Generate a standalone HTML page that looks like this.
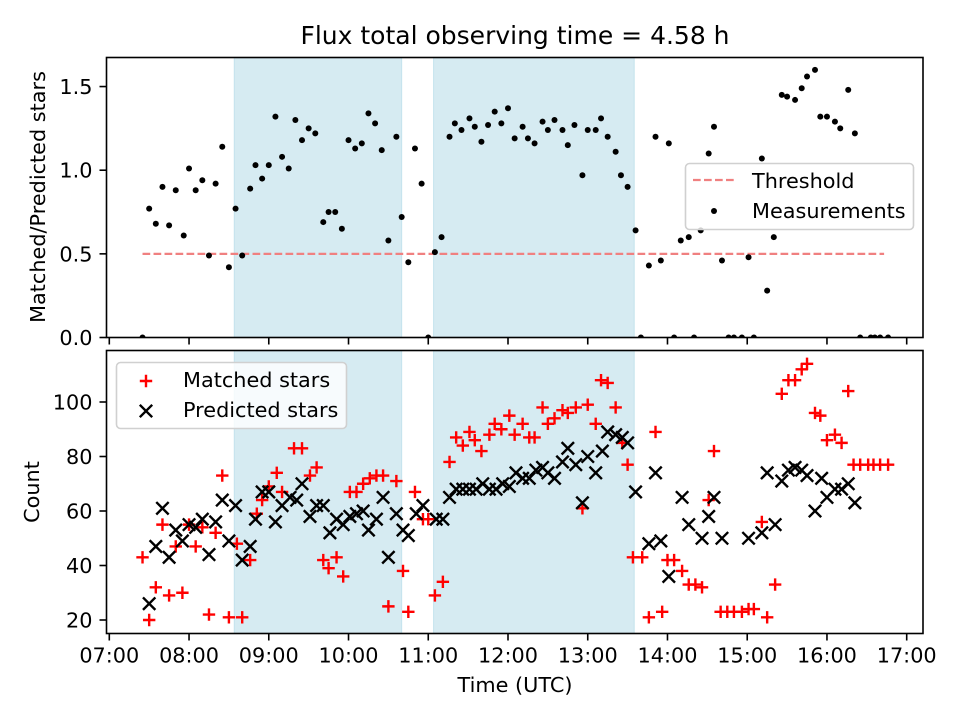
<!DOCTYPE html>
<html><head><meta charset="utf-8">
<style>
html,body{margin:0;padding:0;background:#fff;}
svg{display:block;font-family:"DejaVu Sans","Liberation Sans",sans-serif;}
</style></head>
<body>
<svg id="chart" width="960" height="720" viewBox="0 0 960 720" xmlns="http://www.w3.org/2000/svg">
  <rect x="0" y="0" width="960" height="720" fill="#fff"/>
  <text x="515" y="44" font-size="25" text-anchor="middle" fill="#000">Flux total observing time = 4.58 h</text>
  <defs>
    <clipPath id="clipTop"><rect x="106.5" y="57.5" width="816.5" height="280"/></clipPath>
    <clipPath id="clipBot"><rect x="106.5" y="350.5" width="816.5" height="283"/></clipPath>
  </defs>
  <g id="topPanel"></g>
  <g id="botPanel"></g>
  <text transform="translate(45,197) rotate(-90)" font-size="20.8" text-anchor="middle">Matched/Predicted stars</text>
  <text transform="translate(39,492) rotate(-90)" font-size="20.8" text-anchor="middle">Count</text>
  <text x="515" y="692" font-size="20.8" text-anchor="middle">Time (UTC)</text>
</svg>
<script>
// minutes after 07:00 UTC
const ratioTimes = [25,30,35,40,45,50,56,60,65,70, 75,80,85,90,95,100,106,110,115,120, 125,130,135,140,145,150,155,161,165,170, 175,180,185,190,195,200,205,210,216,220, 225,230,235,240,245,250,256,260,265,271, 275,280,285,290,295,300,305,311,315,320, 326,330,335,341,345,350,356,360,366,370, 375,381,385,390,396,400,406,411,415,421, 425,430,436,440,445,451,455,461,466,470, 476,481,485,491,495,500,506,510,516,521, 525,531,535,540,546,550,556,561,565,573, 576,580,586];
const ratioValues = [0,0.77,0.68,0.90,0.67,0.88,0.61,1.01,0.88,0.94, 0.49,0.92,1.14,0.42,0.77,0.49,0.89,1.03,0.95,1.03, 1.32,1.08,1.01,1.30,1.18,1.25,1.22,0.69,0.75,0.75, 0.65,1.18,1.13,1.16,1.34,1.28,1.12,0.58,1.20,0.72, 0.45,1.13,0.92,0,0.51,0.60,1.20,1.28,1.24,1.31, 1.26,1.17,1.27,1.35,1.28,1.37,1.19,1.26,1.19,1.16, 1.29,1.24,1.30,1.24,1.15,1.27,0.97,1.24,1.24,1.31, 1.20,1.11,0.97,0.90,0.64,0,0.43,1.20,0.46,1.16, 0,0.58,0.60,0,0.64,1.10,1.26,0.46,0,0, 0,0.48,0,1.07,0.28,0.60,1.45,1.44,1.42,1.49, 1.56,1.60,1.32,1.32,1.29,1.25,1.48,1.22,0,0, 0,0,0];
const matchedTimes = [25,30,35,40,45,50,55,60,65,70,75,80,85,90,96,100,106,111,115,120,126,130,139,145,151,156,161,165,171,176,181,186,191,196,201,206,210,216,221,225,230,236,240,245,251,256,261,266,271,275,280,286,290,295,301,305,311,316,320,326,330,335,341,345,351,356,360,366,370,375,381,386,390,394,401,406,411,416,420,425,431,436,441,446,451,455,460,465,470,476,481,485,491,495,501,506,511,516,521,525,531,535,540,546,551,556,560,565,571,575,580,586];
const matchedValues = [43,20,32,55,29,47,30,55,47,54,22,52,73,21,48,21,42,59,64,69,74,67,83,83,73,76,42,39,43,36,67,67,70,72,73,73,25,71,38,23,67,57,57,29,34,78,87,84,89,86,82,88,92,90,95,88,92,87,87,98,92,94,97,96,98,61,99,92,108,107,98,85,77,43,43,21,89,23,42,42,38,33,33,32,64,82,23,23,23,23,24,24,56,21,33,103,108,108,112,114,96,95,86,88,85,104,77,77,77,77,77,77];
const predictedTimes = [30,35,40,45,50,55,60,65,70,75,80,85,90,95,100,106,110,115,120,125,130,136,141,145,151,156,161,166,171,176,181,186,191,195,201,206,210,216,221,225,231,236,246,251,256,261,266,271,276,281,286,291,296,301,306,311,316,321,326,330,335,341,345,351,356,360,366,371,375,381,386,390,396,406,411,415,421,431,436,446,451,455,461,481,491,495,501,506,511,516,521,525,531,536,540,546,551,556,561];
const predictedValues = [26,47,61,43,53,49,55,54,57,44,56,64,49,62,42,47,57,67,67,56,62,65,64,70,58,62,62,52,57,55,58,59,60,53,57,65,43,59,53,51,59,62,57,57,65,68,68,68,68,70,68,68,70,69,74,72,72,75,76,74,72,78,83,77,63,80,74,82,89,88,87,85,67,48,74,49,36,65,55,50,58,65,50,50,52,74,55,71,75,76,75,73,60,72,65,68,68,70,63];
const shadeSpans = [[94,220],[244,395]];
const thresholdValue = 0.5, thresholdStart = 25, thresholdEnd = 583;
const xTickLabels = ["07:00","08:00","09:00","10:00","11:00","12:00","13:00","14:00","15:00","16:00","17:00"];
const topYTicks = [0,0.5,1.0,1.5];
const topYTickLabels = ["0.0","0.5","1.0","1.5"];
const botYTicks = [20,40,60,80,100];

const NS="http://www.w3.org/2000/svg";
const L=106.5,R=923,TT=57.5,TB=337.5,BT=350.5,BB=633.5;
const x0px=109.3, pxPerMin=79.74/60;
const FS=20.8, TL=7, MS=6.2, MW=2.4;
function xs(m){return x0px+m*pxPerMin;}
function ysTop(v){return 337.5 - v*167.3;}
function ysBot(v){return 620 - (v-20)*2.725;}
function mk(tag,attrs,parent){const e=document.createElementNS(NS,tag);for(const k in attrs)e.setAttribute(k,attrs[k]);parent.appendChild(e);return e;}

const topG=document.getElementById('topPanel'), botG=document.getElementById('botPanel');

function panel(g,yT,yB,clip,name){
  const bg=mk('g',{'clip-path':'url(#'+clip+')'},g);
  shadeSpans.forEach(s=>{
    const r=mk('rect',{x:xs(s[0]),y:yT,width:xs(s[1])-xs(s[0]),height:yB-yT,fill:'#add8e6','fill-opacity':0.5,stroke:'#add8e6','stroke-opacity':0.6},bg);
    
    
  });
  return bg;
}
const topClip=panel(topG,TT,TB,'clipTop','top');
const botClip=panel(botG,BT,BB,'clipBot','bottom');

const th=mk('line',{x1:xs(thresholdStart),x2:xs(thresholdEnd),y1:ysTop(thresholdValue),y2:ysTop(thresholdValue),stroke:'#f08080','stroke-width':2.2,'stroke-dasharray':'7.7,3.3'},topClip);



ratioTimes.forEach((t,i)=>{
  const c=mk('circle',{cx:xs(t),cy:ysTop(ratioValues[i]),r:3,fill:'#000'},topClip);
  
  
});
function plus(g,cx,cy,s){
  return mk('path',{d:`M${cx-s},${cy}H${cx+s}M${cx},${cy-s}V${cy+s}`,stroke:'#ff0000','stroke-width':MW,fill:'none'},g);
}
function cross(g,cx,cy,s){
  return mk('path',{d:`M${cx-s},${cy-s}L${cx+s},${cy+s}M${cx-s},${cy+s}L${cx+s},${cy-s}`,stroke:'#000','stroke-width':MW,fill:'none'},g);
}
matchedTimes.forEach((t,i)=>{
  const p=plus(botClip,xs(t),ysBot(matchedValues[i]),MS);
  
  
});
predictedTimes.forEach((t,i)=>{
  const p=cross(botClip,xs(t),ysBot(predictedValues[i]),MS);
  
  
});

function frame(g,yT,yB,name){
  const f=mk('rect',{x:L,y:yT,width:R-L,height:yB-yT,fill:'none',stroke:'#000','stroke-width':1.6},g);
  
  
  xTickLabels.forEach((lab,i)=>{
    const x=xs(i*60);
    const tk=mk('line',{x1:x,x2:x,y1:yB,y2:yB+TL,stroke:'#000','stroke-width':1.6},g);
    
    
  });
}
frame(topG,TT,TB,'top');
frame(botG,BT,BB,'bottom');
xTickLabels.forEach((lab,i)=>{
  const t=mk('text',{x:xs(i*60),y:BB+29,'font-size':FS,'text-anchor':'middle'},botG);
  t.textContent=lab;
  
  
});
topYTicks.forEach((v,i)=>{
  const y=ysTop(v);
  const tk=mk('line',{x1:L-TL,x2:L,y1:y,y2:y,stroke:'#000','stroke-width':1.6},topG);
  
  
  const t=mk('text',{x:L-14,y:y+7.5,'font-size':FS,'text-anchor':'end'},topG);
  t.textContent=topYTickLabels[i];
  
  
});
botYTicks.forEach(v=>{
  const y=ysBot(v);
  const tk=mk('line',{x1:L-TL,x2:L,y1:y,y2:y,stroke:'#000','stroke-width':1.6},botG);
  
  
  const t=mk('text',{x:L-14,y:y+7.5,'font-size':FS,'text-anchor':'end'},botG);
  t.textContent=String(v);
  
  
});

const lg1=mk('g',{},topG);


mk('rect',{x:685.5,y:163.5,width:228,height:66,rx:4,fill:'#fff','fill-opacity':0.8,stroke:'#d0d0d0','stroke-width':1.6},lg1);
mk('line',{x1:693,x2:737,y1:180,y2:180,stroke:'#f08080','stroke-width':2.2,'stroke-dasharray':'7.7,3.3'},lg1);
mk('circle',{cx:714,cy:211,r:3,fill:'#000'},lg1);
const a1=mk('text',{x:752,y:188,'font-size':FS},lg1); a1.textContent='Threshold';


const a2=mk('text',{x:752,y:218,'font-size':FS},lg1); a2.textContent='Measurements';



const lg2=mk('g',{},botG);


mk('rect',{x:116.5,y:362.5,width:230,height:66,rx:4,fill:'#fff','fill-opacity':0.8,stroke:'#d0d0d0','stroke-width':1.6},lg2);
plus(lg2,146,381,MS);
cross(lg2,146,411,MS);
const b1=mk('text',{x:183,y:387,'font-size':FS},lg2); b1.textContent='Matched stars';


const b2=mk('text',{x:183,y:417,'font-size':FS},lg2); b2.textContent='Predicted stars';


</script>
</body></html>
